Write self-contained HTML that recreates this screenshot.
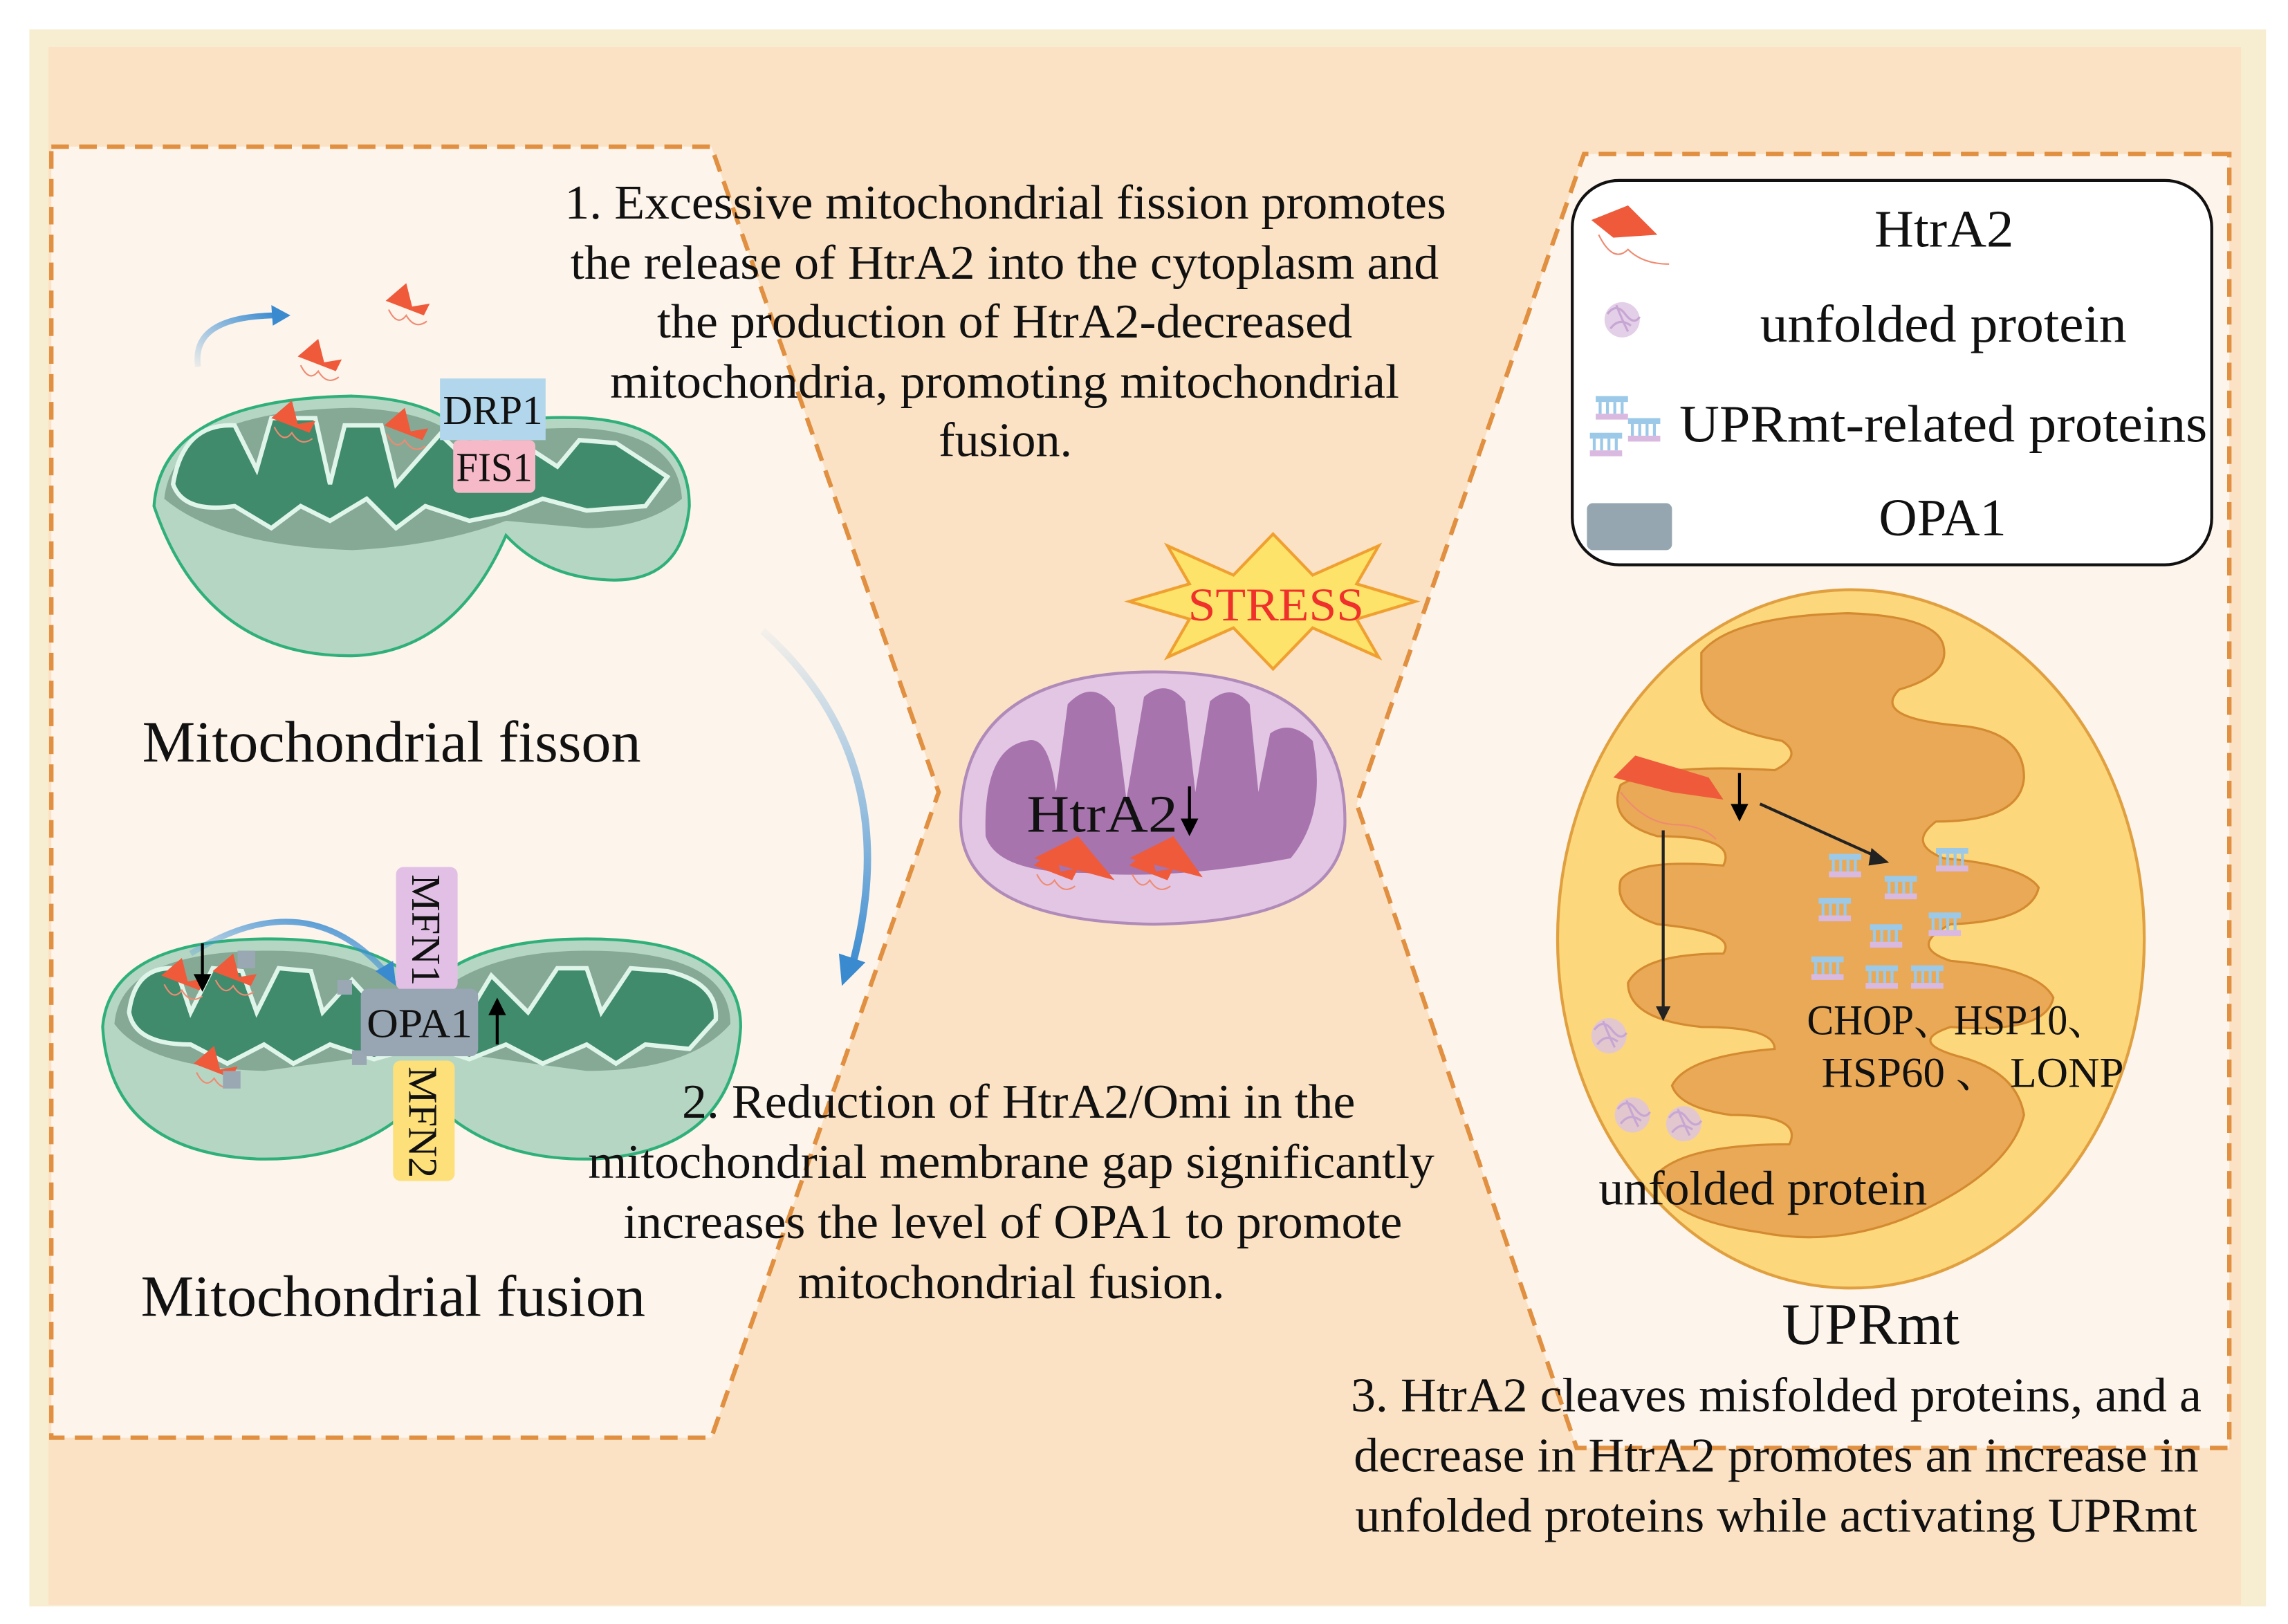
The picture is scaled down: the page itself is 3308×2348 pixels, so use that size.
<!DOCTYPE html>
<html><head><meta charset="utf-8"><style>
html,body{margin:0;padding:0;background:#fff;}
svg{display:block;}
text{font-family:"Liberation Serif","Noto Serif CJK SC",serif;fill:#111;}
</style></head><body>
<svg width="3308" height="2348" viewBox="0 0 1560 1107" preserveAspectRatio="none" xmlns="http://www.w3.org/2000/svg">
<defs>
<linearGradient id="bl" x1="0" y1="1" x2="1" y2="0"><stop offset="0" stop-color="#4a9ad8" stop-opacity="0.1"/><stop offset="1" stop-color="#3a8ad0"/></linearGradient>
<linearGradient id="bl2" x1="0" y1="0" x2="0" y2="1"><stop offset="0" stop-color="#4a9ad8" stop-opacity="0.05"/><stop offset="1" stop-color="#3a8ad0"/></linearGradient>
<g id="prot">
<path d="M0,0 L14,-12 L18,4 L30,2 L26,10 Z" fill="#ef5a3a"/>
<path d="M2,6 Q8,18 14,10 Q20,20 28,14" fill="none" stroke="#f08a70" stroke-width="1"/>
</g>
<g id="upr">
<rect x="0" y="0" width="22" height="4" fill="#9cc9e8"/>
<rect x="2" y="4" width="2" height="8" fill="#9cc9e8"/><rect x="7" y="4" width="2" height="8" fill="#9cc9e8"/><rect x="12" y="4" width="2" height="8" fill="#9cc9e8"/><rect x="17" y="4" width="2" height="8" fill="#9cc9e8"/>
<rect x="0" y="12" width="22" height="4" fill="#d9b9e0"/>
</g>
<g id="unf"><circle r="12" fill="#dcc3e2" opacity="0.8"/><path d="M-10,-4 q6,-8 12,0 t10,2 M-8,6 q6,-8 14,-2 M-4,-10 q4,10 8,18" stroke="#c8a6d4" fill="none" stroke-width="1.5"/></g>
</defs>
<rect x="0" y="0" width="1560" height="1107" fill="#fff"/>
<rect x="20" y="20" width="1525" height="1075" fill="#f7eed2"/>
<rect x="33" y="32" width="1495" height="1062" fill="#fce2c4"/>
<polygon points="35,100 485,100 640,540 485,980 35,980" fill="#fdf4eb" stroke="#e09040" stroke-width="3" stroke-dasharray="12,7"/>
<polygon points="1520,105 1080,105 925,548 1075,987 1520,987" fill="#fdf4eb" stroke="#e09040" stroke-width="3" stroke-dasharray="12,7"/>

<!-- fission mito -->
<path d="M105,345 Q110,272 240,270 Q300,272 320,300 Q340,282 400,285 Q470,290 470,345 Q465,400 410,395 Q370,392 345,365 Q310,445 240,447 Q140,448 105,345 Z" fill="#b6d6c4" stroke="#2fb07a" stroke-width="2"/>
<path d="M112,340 Q118,280 240,278 Q300,280 318,305 Q345,290 400,292 Q462,296 465,340 Q440,360 400,360 L345,355 Q300,372 240,375 Q150,372 112,340 Z" fill="#86a996"/>
<path d="M118,330 Q125,288 160,290 L175,320 L185,285 L215,285 L225,330 L235,290 L260,290 L270,330 L300,296 L325,320 L335,300 L360,305 L380,318 L395,300 L420,302 L440,315 L455,325 L440,345 L400,348 L370,340 L345,350 L320,355 L290,345 L270,360 L250,340 L225,355 L205,345 L185,360 L160,345 Q125,350 118,330 Z" fill="#3f8b6c" stroke="#dff5ea" stroke-width="3"/>
<path d="M135,250 Q130,215 190,215" fill="none" stroke="url(#bl)" stroke-width="4"/>
<polygon points="198,215 185,208 186,222" fill="#3a8ad0"/>
<use href="#prot" x="263" y="205"/><use href="#prot" x="203" y="243"/><use href="#prot" x="185" y="285"/><use href="#prot" x="262" y="290"/>
<rect x="300" y="258" width="72" height="42" fill="#b2d6ec"/>
<text x="302" y="289" font-size="28" textLength="68" lengthAdjust="spacingAndGlyphs">DRP1</text>
<rect x="309" y="300" width="56" height="36" rx="4" fill="#f6b9c8"/>
<text x="311" y="328" font-size="28" textLength="52" lengthAdjust="spacingAndGlyphs">FIS1</text>
<text x="97" y="519" font-size="40" textLength="340" lengthAdjust="spacingAndGlyphs">Mitochondrial fisson</text>

<path d="M520,430 Q620,520 580,662" fill="none" stroke="url(#bl2)" stroke-width="5"/>
<polygon points="574,672 572,650 590,656" fill="#3a8ad0"/>

<!-- fusion mito -->
<path d="M70,700 Q75,640 185,640 Q260,640 290,675 Q320,640 400,640 Q505,640 505,700 Q500,785 405,790 Q330,792 290,745 Q250,792 175,790 Q75,785 70,700 Z" fill="#b6d6c4" stroke="#2fb07a" stroke-width="2"/>
<path d="M78,698 Q82,648 185,648 Q255,648 290,685 Q325,648 400,648 Q498,648 498,698 Q470,730 400,730 L290,715 L180,730 Q100,728 78,698 Z" fill="#86a996"/>
<path d="M88,690 Q92,658 120,660 L130,690 L145,660 L165,662 L175,690 L190,660 L212,662 L220,690 L240,668 L260,690 L285,700 L320,690 L335,665 L360,690 L380,660 L400,660 L410,690 L430,660 L455,662 Q490,670 488,695 L470,715 L440,712 L420,725 L400,712 L370,725 L345,712 L320,722 L290,712 L255,722 L225,712 L200,725 L180,712 L155,725 L130,712 Q92,712 88,690 Z" fill="#3f8b6c" stroke="#dff5ea" stroke-width="3"/>
<path d="M130,650 Q210,600 265,665" fill="none" stroke="url(#bl)" stroke-width="4"/>
<polygon points="270,672 256,662 268,655" fill="#3a8ad0"/>
<use href="#prot" x="110" y="665"/><use href="#prot" x="145" y="662"/><use href="#prot" x="132" y="725"/>
<line x1="138" y1="643" x2="138" y2="668" stroke="#000" stroke-width="2"/><polygon points="132,664 144,664 138,676" fill="#000"/>
<rect x="162" y="648" width="12" height="12" fill="#9aa8b4"/><rect x="230" y="668" width="10" height="10" fill="#9aa8b4"/><rect x="240" y="716" width="10" height="10" fill="#9aa8b4"/><rect x="152" y="730" width="12" height="12" fill="#9aa8b4"/>
<rect x="270" y="591" width="42" height="84" rx="5" fill="#e2c0e6"/>
<text x="0" y="0" font-size="28" transform="translate(281,596) rotate(90)" textLength="76" lengthAdjust="spacingAndGlyphs">MFN1</text>
<rect x="268" y="723" width="42" height="82" rx="5" fill="#fde07a"/>
<text x="0" y="0" font-size="28" transform="translate(279,727) rotate(90)" textLength="76" lengthAdjust="spacingAndGlyphs">MFN2</text>
<rect x="246" y="674" width="80" height="46" rx="5" fill="#98a6b3"/>
<text x="250" y="707" font-size="28" textLength="72" lengthAdjust="spacingAndGlyphs">OPA1</text>
<line x1="339" y1="712" x2="339" y2="688" stroke="#000" stroke-width="2"/><polygon points="333,692 345,692 339,680" fill="#000"/>
<text x="96" y="897" font-size="40" textLength="344" lengthAdjust="spacingAndGlyphs">Mitochondrial fusion</text>

<g font-size="33">
<text x="385" y="149" textLength="601" lengthAdjust="spacingAndGlyphs">1. Excessive mitochondrial fission promotes</text>
<text x="389" y="190" textLength="592" lengthAdjust="spacingAndGlyphs">the release of HtrA2 into the cytoplasm and</text>
<text x="448" y="230" textLength="474" lengthAdjust="spacingAndGlyphs">the production of HtrA2-decreased</text>
<text x="416" y="271" textLength="538" lengthAdjust="spacingAndGlyphs">mitochondria, promoting mitochondrial</text>
<text x="640" y="311" textLength="91" lengthAdjust="spacingAndGlyphs">fusion.</text>
<text x="465" y="762" textLength="459" lengthAdjust="spacingAndGlyphs">2. Reduction of HtrA2/Omi in the</text>
<text x="401" y="803" textLength="577" lengthAdjust="spacingAndGlyphs">mitochondrial membrane gap significantly</text>
<text x="425" y="844" textLength="531" lengthAdjust="spacingAndGlyphs">increases the level of OPA1 to promote</text>
<text x="544" y="885" textLength="291" lengthAdjust="spacingAndGlyphs">mitochondrial fusion.</text>
<text x="921" y="962" textLength="580" lengthAdjust="spacingAndGlyphs">3. HtrA2 cleaves misfolded proteins, and a</text>
<text x="923" y="1003" textLength="576" lengthAdjust="spacingAndGlyphs">decrease in HtrA2 promotes an increase in</text>
<text x="924" y="1044" textLength="574" lengthAdjust="spacingAndGlyphs">unfolded proteins while activating UPRmt</text>
</g>

<polygon points="868,364 895,392 940,372 925,398 965,410 925,422 940,448 895,428 868,456 841,428 796,448 811,422 770,410 811,398 796,372 841,392" fill="#fde36a" stroke="#f0a030" stroke-width="2"/>
<text x="810" y="423" font-size="32" textLength="120" lengthAdjust="spacingAndGlyphs" style="fill:#f0302a">STRESS</text>

<path d="M655,560 Q655,458 787,458 Q917,458 917,560 Q917,628 787,630 Q655,628 655,560 Z" fill="#e2c6e3" stroke="#b08ab8" stroke-width="2"/>
<path d="M672,570 Q670,510 700,505 Q715,500 720,540 L728,480 Q745,462 760,482 L768,545 L780,475 Q795,462 808,478 L815,540 L825,478 Q840,465 852,480 L858,540 L866,500 Q880,490 895,505 Q905,555 880,585 Q800,600 740,595 Q680,595 672,570 Z" fill="#a774ae"/>
<use href="#prot" x="705" y="590"/><use href="#prot" x="770" y="590"/>
<path d="M705,585 L735,570 L760,600 Z M770,585 L800,570 L820,598 Z" fill="#ef5a3a"/>
<text x="700" y="567" font-size="36" textLength="103" lengthAdjust="spacingAndGlyphs">HtrA2</text>
<line x1="811" y1="536" x2="811" y2="562" stroke="#000" stroke-width="2"/><polygon points="805,558 817,558 811,570" fill="#000"/>

<rect x="1072" y="123" width="436" height="262" rx="32" fill="#fff" stroke="#111" stroke-width="2"/>
<path d="M1085,150 L1110,140 L1130,160 L1100,162 Z" fill="#ef5a3a"/><path d="M1090,160 q10,20 20,10 q10,10 28,10" stroke="#f08a70" fill="none"/>
<use href="#unf" x="1106" y="218"/>
<use href="#upr" x="1088" y="270"/><use href="#upr" x="1110" y="285"/><use href="#upr" x="1084" y="295"/>
<rect x="1082" y="343" width="58" height="32" rx="4" fill="#95a6b0"/>
<g font-size="36">
<text x="1278" y="168" textLength="95" lengthAdjust="spacingAndGlyphs">HtrA2</text>
<text x="1200" y="233" textLength="250" lengthAdjust="spacingAndGlyphs">unfolded protein</text>
<text x="1145" y="301" textLength="360" lengthAdjust="spacingAndGlyphs">UPRmt-related proteins</text>
<text x="1281" y="365" textLength="87" lengthAdjust="spacingAndGlyphs">OPA1</text>
</g>

<ellipse cx="1262" cy="640" rx="200" ry="238" fill="#fdd77c" stroke="#e0a040" stroke-width="2"/>
<path d="M1160,445 Q1180,420 1260,418 Q1320,420 1325,440 Q1330,460 1295,470 Q1275,490 1340,495 Q1380,500 1380,530 Q1378,560 1320,560 Q1300,575 1325,585 Q1380,590 1390,605 Q1385,628 1330,630 Q1300,645 1330,655 Q1390,660 1400,680 Q1395,705 1330,700 Q1300,710 1335,720 Q1375,730 1380,760 Q1370,800 1300,830 Q1250,850 1200,840 Q1130,830 1130,800 Q1150,780 1220,780 Q1230,760 1180,760 Q1145,755 1140,740 Q1150,720 1210,715 Q1210,700 1160,700 Q1110,695 1110,670 Q1120,650 1175,650 Q1185,635 1130,630 Q1100,620 1105,600 Q1115,585 1175,590 Q1185,570 1130,570 Q1095,560 1105,535 Q1130,520 1210,525 Q1230,515 1215,505 Q1160,495 1160,470 Z" fill="#e9a956" stroke="#d48a30" stroke-width="1.5"/>
<path d="M1100,530 L1115,515 L1165,530 L1175,545 L1140,540 Z" fill="#ef5a3a"/>
<path d="M1105,540 q15,20 35,22 q20,0 30,10" stroke="#f08a70" fill="none"/>
<line x1="1186" y1="527" x2="1186" y2="552" stroke="#000" stroke-width="2"/><polygon points="1180,548 1192,548 1186,560" fill="#000"/>
<line x1="1134" y1="566" x2="1134" y2="690" stroke="#222" stroke-width="2"/><polygon points="1129,686 1139,686 1134,696" fill="#222"/>
<line x1="1200" y1="548" x2="1282" y2="585" stroke="#222" stroke-width="2"/><polygon points="1288,588 1276,578 1274,590" fill="#222"/>
<use href="#upr" x="1247" y="582"/><use href="#upr" x="1285" y="597"/><use href="#upr" x="1320" y="578"/><use href="#upr" x="1240" y="612"/><use href="#upr" x="1275" y="630"/><use href="#upr" x="1315" y="622"/><use href="#upr" x="1235" y="652"/><use href="#upr" x="1272" y="658"/><use href="#upr" x="1303" y="658"/>
<g font-size="29"><text x="1232" y="705" textLength="205" lengthAdjust="spacingAndGlyphs">CHOP、HSP10、</text><text x="1242" y="741" textLength="206" lengthAdjust="spacingAndGlyphs">HSP60 、 LONP</text></g>
<use href="#unf" x="1097" y="706"/><use href="#unf" x="1113" y="760"/><use href="#unf" x="1148" y="766"/>
<text x="1090" y="821" font-size="33" textLength="224" lengthAdjust="spacingAndGlyphs">unfolded protein</text>
<text x="1215" y="916" font-size="40" textLength="121" lengthAdjust="spacingAndGlyphs">UPRmt</text>
</svg>
</body></html>
